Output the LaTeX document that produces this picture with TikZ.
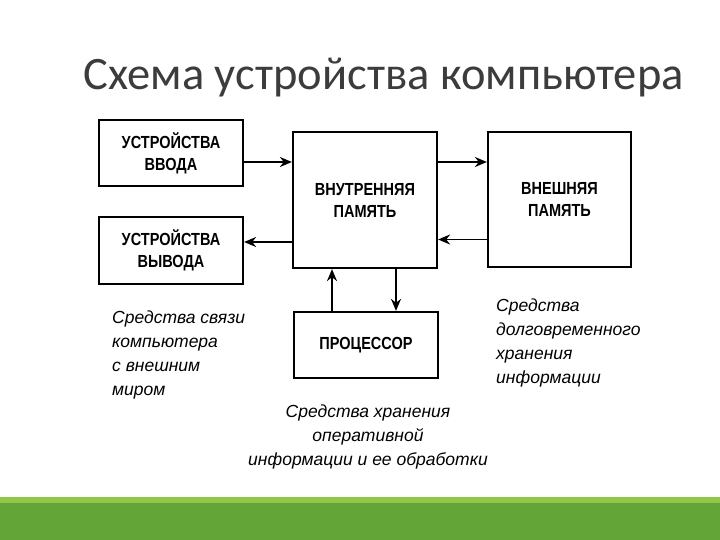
\documentclass[tikz,border=0pt]{standalone}
\usepackage{fontspec}
\setmainfont{Liberation Sans}
\newfontfamily\titlefont{Carlito}
\newfontfamily\boxfont[FakeStretch=0.83]{Liberation Sans}
\usetikzlibrary{arrows.meta}
\definecolor{titlegray}{HTML}{3C3C3C}
\definecolor{barlight}{HTML}{92C848}
\definecolor{bargreen}{HTML}{63A537}
\begin{document}
\begin{tikzpicture}[x=1pt, y=-1pt,
  box/.style={draw, line width=2.2pt, minimum width=144pt, inner sep=0pt, align=center, font=\fontsize{17.5}{22}\boxfont\bfseries},
  arr/.style={line width=1.8pt, -{Stealth[length=12pt,width=10pt]}},
  note/.style={inner sep=0pt, font=\fontsize{17.5}{24}\selectfont\itshape}]
\useasboundingbox (0,0) rectangle (720,540);
\fill[white] (0,0) rectangle (720,540);
\fill[bargreen] (0,503) rectangle (720,540);
\fill[barlight] (0,497) rectangle (720,503);
\node[anchor=base west, text=titlegray, font=\fontsize{46.5}{50}\titlefont] (title) at (80,90) {Схема устройства компьютера};
\node[box, minimum height=66pt] (vvod) at (171,153) {УСТРОЙСТВА\\ВВОДА};
\node[box, minimum height=67pt] (vyvod) at (171,250.5) {УСТРОЙСТВА\\ВЫВОДА};
\node[box, minimum height=136pt] (vnutr) at (365,200) {ВНУТРЕННЯЯ\\ПАМЯТЬ};
\node[box, minimum width=143pt, minimum height=135pt] (vnesh) at (559.5,199.5) {ВНЕШНЯЯ\\ПАМЯТЬ};
\node[box, minimum height=66pt] (proc) at (366,345) {ПРОЦЕССОР};
\draw[arr] ([yshift=-9pt]vvod.east) -- ([yshift=-9pt]vvod.east -| vnutr.west);
\draw[arr] ([yshift=-42pt]vnutr.west) -- ([yshift=-42pt]vnutr.west -| vyvod.east);
\draw[arr] ([yshift=38pt]vnutr.east) -- ([yshift=38pt]vnutr.east -| vnesh.west);
\draw[arr] ([yshift=-40pt]vnesh.west) -- ([yshift=-40pt]vnesh.west -| vnutr.east);
\draw[arr] ([xshift=-34pt]proc.north) -- ([xshift=-34pt]proc.north |- vnutr.south);
\draw[arr] ([xshift=31pt]vnutr.south) -- ([xshift=31pt]vnutr.south |- proc.north);
\node[note, anchor=north west, align=left] (svyaz) at (112,311) {Средства связи\\компьютера\\с внешним\\миром};
\node[note, anchor=north west, align=left] (dolg) at (496,299) {Средства\\долговременного\\хранения\\информации};
\node[note, anchor=north, align=center] (oper) at (368,405) {Средства хранения\\оперативной\\информации и ее обработки};
\end{tikzpicture}
\end{document}
